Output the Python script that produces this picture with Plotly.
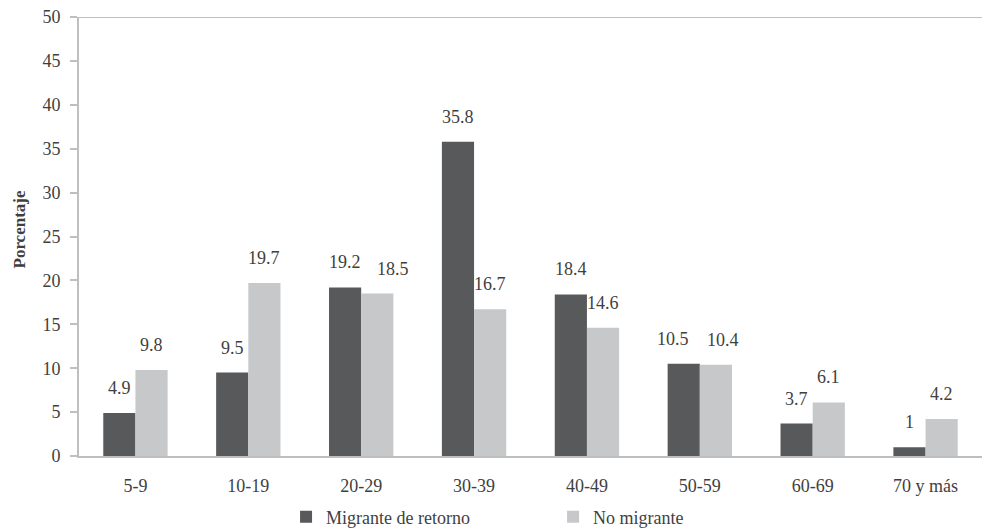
import plotly.graph_objects as go

categorias = ["5-9", "10-19", "20-29", "30-39", "40-49", "50-59", "60-69", "70 y más"]
migrante_retorno = [4.9, 9.5, 19.2, 35.8, 18.4, 10.5, 3.7, 1]
no_migrante = [9.8, 19.7, 18.5, 16.7, 14.6, 10.4, 6.1, 4.2]
y_ticks = [0, 5, 10, 15, 20, 25, 30, 35, 40, 45, 50]

DARK = "#58595B"
LIGHT = "#C7C8CA"
TXT = "#3F3F3F"
AXIS = "#BFBFBF"
FONT = "Liberation Serif"
W = 0.285
FS = 18
# horizontal nudges (px) of value labels that would otherwise collide
NUDGE = {(0, 5): -11, (1, 2): 16, (1, 5): 7}

xs = list(range(len(categorias)))

fig = go.Figure()
fig.add_trace(go.Bar(x=xs, y=migrante_retorno, name="Migrante de retorno",
                     marker=dict(color=DARK, line=dict(width=0)),
                     offset=-W, width=W))
fig.add_trace(go.Bar(x=xs, y=no_migrante, name="No migrante",
                     marker=dict(color=LIGHT, line=dict(width=0)),
                     offset=0, width=W))

annotations = []
for s, (serie, dx) in enumerate([(migrante_retorno, -W / 2), (no_migrante, W / 2)]):
    for i, v in enumerate(serie):
        annotations.append(dict(x=i + dx, y=v, xref="x", yref="y", text=f"{v:g}",
                                showarrow=False, yanchor="middle", yshift=25,
                                xshift=NUDGE.get((s, i), 0),
                                font=dict(family=FONT, size=FS, color=TXT)))

annotations.append(dict(x=(19.5 - 79) / 903, xref="paper", xanchor="center",
                        y=(456 - 229) / 439, yref="paper", yanchor="middle",
                        text="<b>Porcentaje</b>", showarrow=False, textangle=-90,
                        font=dict(family=FONT, size=17, color=TXT)))

fig.update_layout(
    width=983, height=528,
    margin=dict(l=79, r=1, t=17, b=72, autoexpand=False),
    paper_bgcolor="white", plot_bgcolor="white",
    barmode="overlay",
    font=dict(family=FONT, size=FS, color=TXT),
    showlegend=True,
    legend=dict(orientation="h", x=0.2293, xanchor="left", y=-0.139, yanchor="middle",
                font=dict(family=FONT, size=FS, color=TXT), entrywidth=222,
                itemwidth=30, bgcolor="rgba(0,0,0,0)"),
    annotations=annotations,
    shapes=[dict(type="line", xref="paper", yref="y", x0=0, x1=1, y0=50, y1=50,
                 line=dict(color=AXIS, width=2))],
    xaxis=dict(range=[-0.5, len(categorias) - 0.5], tickvals=xs, ticktext=categorias,
               showline=True, linecolor=AXIS, linewidth=2, ticks="", showgrid=False,
               zeroline=False, tickfont=dict(family=FONT, size=FS, color=TXT),
               ticklabelstandoff=12, automargin=False),
    yaxis=dict(range=[0, 50], tickvals=y_ticks, showline=True, linecolor=AXIS, linewidth=2,
               ticks="outside", ticklen=7, tickcolor=AXIS, tickwidth=1.5, showgrid=False,
               zeroline=False, tickfont=dict(family=FONT, size=FS, color=TXT),
               ticklabelstandoff=6, automargin=False, ticklabeloverflow="allow"),
)

fig.write_html("out.html", config={"displayModeBar": False},
               post_script="document.body.style.margin='0px';")
